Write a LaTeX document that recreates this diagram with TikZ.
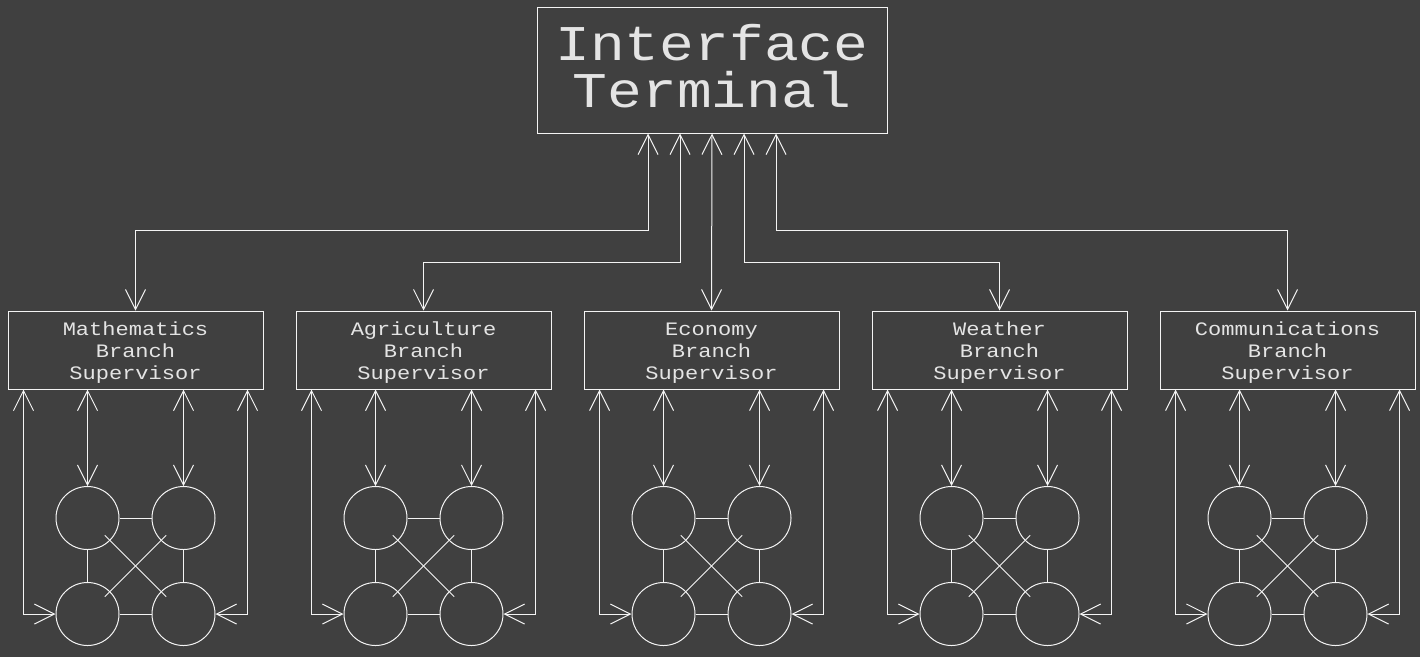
\documentclass[tikz,border=0pt]{standalone}
\usepackage{fontspec}
\newfontfamily\labelfont[FakeStretch=1.16]{Liberation Mono}
\usepackage{xcolor}
\usetikzlibrary{positioning,arrows.meta,calc}
\definecolor{bgdark}{HTML}{404040}
\definecolor{inkwhite}{HTML}{F4F4F4}
\definecolor{textgray}{HTML}{E4E4E4}
\tikzset{
  every node/.style={font=\labelfont, text=textgray},
  terminal/.style={
    rectangle, draw=inkwhite, line width=1pt, inner sep=0pt,
    minimum width=350pt, minimum height=126pt,
    text height=87pt, text depth=13pt,
    align=center, font=\labelfont\fontsize{50}{47}\selectfont
  },
  supervisor/.style={
    rectangle, draw=inkwhite, line width=1pt, inner sep=0pt,
    minimum width=255pt, minimum height=78pt,
    text height=64pt, text depth=6pt,
    align=center, font=\labelfont\fontsize{19}{22}\selectfont
  },
  worker/.style={
    circle, draw=inkwhite, line width=1pt, inner sep=0pt,
    minimum size=63pt
  },
  link/.style={draw=inkwhite, line width=1pt},
  duplex/.style={
    {Straight Barb[length=20pt,width=20pt]}-{Straight Barb[length=20pt,width=20pt]},
    draw=inkwhite, line width=1pt
  },
}
\begin{document}
\begin{tikzpicture}[x=1pt, y=-1pt]
  \fill[bgdark] (0,0) rectangle (1420,657);
  \useasboundingbox (0,0) rectangle (1420,657);

  \node[terminal] (term) at (712,70) {Interface\\Terminal};

  % branch supervisors and their worker clusters
  \foreach \i/\branch in {1/Mathematics, 2/Agriculture, 3/Economy, 4/Weather, 5/Communications} {
    \pgfmathsetmacro{\cx}{135.5+(\i-1)*288}
    \node[supervisor] (b\i) at (\cx,350) {\branch\\Branch\\Supervisor};
    \node[worker] (tl\i) at (\cx-48,518) {};
    \node[worker] (tr\i) at (\cx+48,518) {};
    \node[worker] (bl\i) at (\cx-48,614) {};
    \node[worker] (br\i) at (\cx+48,614) {};
    \draw[link] (tl\i) -- (tr\i);
    \draw[link] (bl\i) -- (br\i);
    \draw[link] (tl\i) -- (bl\i);
    \draw[link] (tr\i) -- (br\i);
    \draw[link] ($(tl\i)!0.18!(br\i)$) -- ($(br\i)!0.18!(tl\i)$);
    \draw[link] ($(tr\i)!0.18!(bl\i)$) -- ($(bl\i)!0.18!(tr\i)$);
    \draw[duplex] (b\i.south -| tl\i.north) -- (tl\i.north);
    \draw[duplex] (b\i.south -| tr\i.north) -- (tr\i.north);
    \coordinate (lo\i) at ([xshift=-32pt]bl\i.west);
    \coordinate (ro\i) at ([xshift=32pt]br\i.east);
    \draw[duplex] (lo\i |- b\i.south) -- (lo\i) -- (bl\i.west);
    \draw[duplex] (ro\i |- b\i.south) -- (ro\i) -- (br\i.east);
  }

  % terminal to supervisors
  \draw[duplex] ([xshift=-64pt]term.south) |- ([yshift=80pt]b1.north) -- (b1.north);
  \draw[duplex] ([xshift=-32pt]term.south) |- ([yshift=48pt]b2.north) -- (b2.north);
  \draw[duplex] (term.south) -- (b3.north);
  \draw[duplex] ([xshift=32pt]term.south) |- ([yshift=48pt]b4.north) -- (b4.north);
  \draw[duplex] ([xshift=64pt]term.south) |- ([yshift=80pt]b5.north) -- (b5.north);
\end{tikzpicture}
\end{document}
